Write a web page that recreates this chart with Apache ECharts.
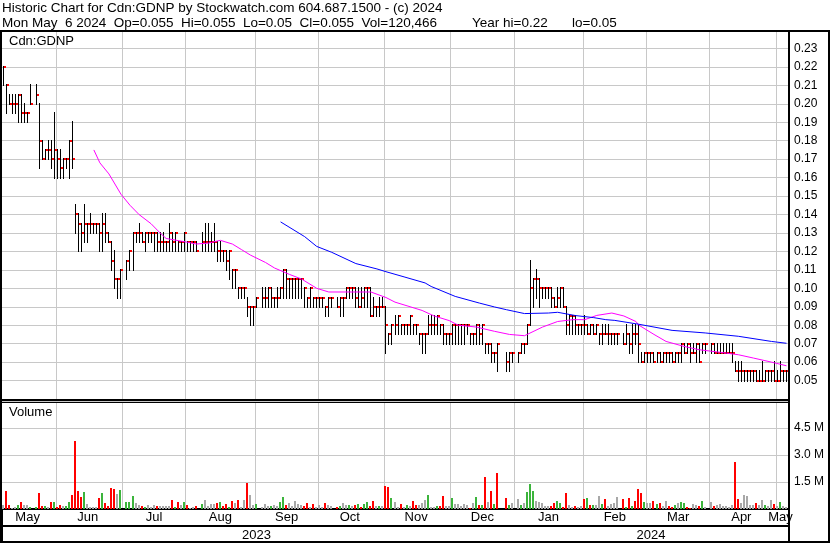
<!DOCTYPE html>
<html><head><meta charset="utf-8">
<script src="https://cdn.jsdelivr.net/npm/echarts@6/dist/echarts.min.js"></script>
<style>html,body{margin:0;padding:0;background:#fff}#c{width:830px;height:543px}</style>
</head><body><div id="c"></div>
<script>
// ---------- DATA ----------
const titleLine1 = 'Historic Chart for Cdn:GDNP by Stockwatch.com 604.687.1500 - (c) 2024';
const titleLine2 = 'Mon May  6 2024  Op=0.055  Hi=0.055  Lo=0.05  Cl=0.055  Vol=120,466';
const titleYearHi = 'Year hi=0.22';
const titleYearLo = 'lo=0.05';
const symbolName = 'Cdn:GDNP';
const firstDay = '2023-05-08', lastDay = '2024-05-06';
const monthNames = ['Jan','Feb','Mar','Apr','May','Jun','Jul','Aug','Sep','Oct','Nov','Dec'];
const priceTicks = [0.05,0.06,0.07,0.08,0.09,0.10,0.11,0.12,0.13,0.14,0.15,0.16,0.17,0.18,0.19,0.20,0.21,0.22,0.23];
const volumeTicks = [1500000, 3000000, 4500000];

// one entry per weekday (null = market holiday)
const hi = [
 .22,.21,.205,.205,.205,.205,.205,.20,.195,.21,null,.21,.20,.18,.175,.18,.18,.195,
 .175,.175,.17,.17,.18,.19,.145,.14,.135,.145,.135,.14,.135,.135,.135,.14,.14,.13,.125,.12,.105,.11,
 null,.115,.12,.13,.13,.135,.13,.13,.13,.13,.13,.13,.13,.13,.125,.135,.13,.13,.125,.125,.13,
 .125,.125,.125,.125,null,.13,.135,.135,.13,.135,.125,.125,.12,.12,.12,.11,.11,.10,.10,.10,.095,.09,.09,
 .095,null,.10,.10,.10,.10,.095,.10,.10,.11,.11,.105,.105,.105,.105,.105,.10,.095,.10,.095,.095,
 .095,.095,.09,.095,.095,null,.095,.095,.095,.10,.10,.10,.10,.10,.10,.10,.10,.10,.095,.09,.095,.095,
 .09,.075,.08,.085,.085,.08,.08,.08,.085,.08,.08,.075,.075,.075,.085,.085,.085,.085,.08,.08,.075,.075,
 .08,.08,.08,.08,.08,.08,.075,.075,.08,.08,.08,.07,.07,.07,.065,.07,null,null,.065,.065,.065,
 null,.065,.07,.07,.08,.115,.105,.11,.105,.10,.10,.10,.10,.095,.10,.10,.10,.09,.085,.085,.085,.08,.08,
 .085,.08,.08,.08,.08,.075,.08,.08,.08,.075,.075,.075,null,.075,.08,.075,.08,.08,.08,.065,.065,
 .065,.065,.065,.065,.065,.065,.065,.065,.065,.065,.065,.07,.07,.07,.07,.07,.07,.07,.07,.07,null,
 .07,.07,.07,.07,.07,.07,.07,.07,.06,.06,.06,.055,.055,.055,.055,.055,.055,.06,.055,.055,.055,.06,
 .055,.06,.055,.055
];
const lo = [
 .21,.195,.20,.195,.195,.19,.19,.19,.19,.20,null,.20,.165,.17,.17,.17,.165,.16,
 .16,.16,.16,.165,.16,.165,.13,.12,.12,.125,.125,.13,.13,.13,.12,.12,.125,.125,.11,.10,.095,.095,
 null,.105,.11,.11,.125,.125,.125,.12,.125,.125,.12,.12,.12,.12,.12,.12,.12,.12,.12,.12,.12,
 .12,.12,.12,.12,null,.12,.12,.12,.12,.12,.115,.115,.115,.11,.105,.10,.10,.095,.095,.095,.085,.08,.08,
 .09,null,.09,.09,.09,.09,.09,.09,.095,.095,.095,.095,.095,.095,.095,.095,.09,.09,.09,.09,.09,
 .09,.09,.085,.085,.09,null,.09,.085,.085,.095,.095,.095,.09,.09,.09,.09,.09,.085,.085,.085,.085,.09,
 .065,.07,.07,.075,.075,.075,.075,.075,.075,.075,.075,.07,.065,.065,.075,.075,.075,.075,.075,.07,.07,.07,
 .07,.07,.07,.07,.07,.075,.07,.07,.07,.07,.07,.065,.065,.06,.06,.055,null,null,.055,.055,.06,
 null,.06,.065,.065,.07,.08,.09,.095,.09,.095,.095,.095,.09,.09,.09,.09,.09,.075,.075,.075,.075,.075,.075,
 .075,.075,.075,.075,.075,.07,.07,.075,.07,.07,.07,.07,null,.07,.07,.065,.065,.07,.06,.06,.06,
 .06,.06,.06,.06,.06,.06,.06,.06,.06,.06,.06,.06,.065,.065,.06,.065,.06,.06,.065,.065,null,
 .065,.065,.065,.065,.065,.065,.065,.06,.055,.05,.05,.05,.05,.05,.05,.05,.05,.05,.05,.05,.05,.05,
 .05,.05,.05,.05
];
const cl = [
 .22,.21,.20,.20,.20,.205,.195,.195,.195,.20,null,.205,.18,.17,.175,.175,.17,.175,
 .17,.165,.17,.17,.18,.17,.14,.135,.13,.135,.135,.135,.135,.135,.13,.135,.13,.125,.115,.105,.105,.11,
 null,.115,.12,.13,.13,.13,.125,.13,.13,.13,.13,.125,.125,.125,.125,.13,.125,.13,.125,.125,.13,
 .125,.125,.125,.12,null,.125,.125,.125,.125,.125,.12,.12,.12,.115,.12,.11,.11,.10,.10,.10,.09,.09,.09,
 .095,null,.095,.095,.10,.095,.095,.095,.10,.11,.105,.105,.105,.105,.105,.105,.10,.095,.10,.095,.095,
 .095,.095,.09,.095,.095,null,.09,.095,.095,.10,.10,.10,.095,.09,.095,.10,.10,.085,.09,.09,.09,.09,
 .08,.075,.08,.08,.085,.08,.08,.08,.085,.08,.08,.075,.075,.075,.08,.08,.08,.085,.08,.075,.075,.075,
 .08,.08,.08,.08,.08,.08,.075,.075,.08,.075,.08,.07,.07,.065,.065,.07,null,null,.06,.065,.065,
 null,.065,.07,.07,.08,.10,.105,.105,.10,.10,.10,.10,.095,.09,.095,.10,.09,.08,.085,.085,.08,.08,.08,
 .08,.075,.08,.075,.08,.075,.075,.075,.075,.075,.075,.075,null,.07,.075,.07,.075,.075,.07,.06,.065,
 .065,.065,.06,.065,.06,.065,.065,.065,.06,.065,.065,.07,.065,.07,.065,.065,.07,.06,.07,.07,null,
 .07,.065,.065,.065,.065,.065,.065,.065,.055,.055,.055,.055,.055,.055,.055,.05,.05,.05,.055,.055,.055,.05,
 .05,.055,.055,.055
];
const volume = [
 220000,1020000,220000,70000,130000,220000,390000,220000,220000,110000,null,110000,910000,170000,170000,110000,390000,390000,
 110000,220000,170000,170000,390000,780000,3800000,1000000,690000,940000,280000,130000,130000,130000,610000,890000,330000,170000,1170000,1110000,830000,1060000,
 null,390000,390000,720000,330000,220000,170000,110000,220000,110000,220000,170000,170000,170000,170000,170000,500000,110000,390000,220000,390000,
 220000,60000,110000,170000,null,280000,500000,170000,300000,300000,330000,390000,170000,280000,110000,440000,330000,500000,110000,500000,1440000,780000,220000,
 280000,null,110000,280000,170000,170000,220000,170000,390000,670000,220000,330000,170000,440000,280000,220000,170000,330000,110000,280000,110000,
 220000,110000,330000,220000,170000,null,110000,170000,330000,220000,220000,170000,220000,280000,110000,280000,390000,170000,440000,170000,170000,170000,
 1280000,1220000,610000,390000,110000,280000,110000,220000,170000,440000,220000,220000,330000,500000,780000,110000,110000,170000,170000,720000,170000,170000,
 610000,280000,280000,170000,280000,220000,60000,330000,670000,220000,220000,1780000,390000,1000000,280000,2000000,null,null,610000,220000,330000,
 null,560000,220000,330000,940000,1390000,1000000,440000,390000,330000,170000,170000,170000,330000,440000,330000,110000,890000,220000,110000,170000,110000,170000,
 560000,610000,220000,220000,220000,720000,280000,560000,170000,280000,330000,670000,null,560000,110000,610000,170000,440000,1110000,890000,390000,
 330000,330000,440000,280000,330000,170000,440000,170000,110000,220000,330000,390000,330000,110000,60000,280000,220000,170000,440000,110000,null,
 390000,170000,220000,280000,170000,170000,110000,220000,2610000,560000,330000,780000,720000,220000,220000,330000,220000,500000,220000,170000,500000,280000,
 170000,390000,170000,120466
];
const volDir = [
 0,-1,-1,0,0,1,-1,0,0,1,null,1,-1,-1,1,0,-1,1,
 -1,-1,0,1,1,-1,-1,-1,-1,1,0,0,0,0,-1,1,-1,-1,-1,-1,0,1,
 null,1,1,1,0,0,-1,1,0,0,0,-1,0,0,0,0,-1,1,-1,0,1,
 -1,0,0,-1,null,1,0,0,0,0,-1,1,-1,-1,1,-1,0,-1,0,0,-1,0,0,
 1,null,0,0,0,1,0,0,1,1,-1,0,0,0,0,0,-1,-1,0,-1,0,
 0,0,-1,0,0,null,-1,1,0,0,1,0,-1,1,-1,1,1,-1,-1,0,1,0,
 -1,-1,1,0,0,-1,0,1,0,-1,-1,0,0,0,1,0,0,1,-1,-1,0,0,
 1,0,0,0,0,0,-1,0,1,-1,1,-1,0,-1,1,-1,null,null,-1,1,0,
 null,0,1,0,1,1,1,0,0,0,0,0,-1,-1,1,1,-1,-1,0,0,-1,0,0,
 -1,1,-1,1,0,0,1,-1,0,0,0,0,null,-1,1,-1,1,-1,-1,-1,1,
 0,0,-1,1,-1,0,0,-1,-1,1,0,1,1,-1,-1,0,0,-1,1,0,null,
 0,-1,0,0,0,0,0,0,-1,-1,0,0,0,0,0,-1,0,0,1,0,0,-1,
 0,1,0,0
];
// moving averages
const ma30Dates = ['2023-06-19','2023-06-21','2023-06-26','2023-06-30','2023-07-05','2023-07-10','2023-07-14','2023-07-19','2023-07-21','2023-08-01','2023-08-04','2023-08-10','2023-08-16','2023-08-22','2023-08-25','2023-08-30','2023-09-06','2023-09-11','2023-09-18','2023-09-22','2023-09-29','2023-10-05','2023-10-16','2023-10-25','2023-11-01','2023-11-06','2023-11-10','2023-11-17','2023-11-23','2023-11-30','2023-12-05','2023-12-13','2023-12-21','2023-12-28','2024-01-04','2024-01-12','2024-01-19','2024-01-26','2024-02-01','2024-02-07','2024-02-14','2024-02-20','2024-02-26','2024-02-27','2024-03-05','2024-03-11','2024-03-19','2024-03-26','2024-04-04','2024-04-12','2024-04-19','2024-04-29','2024-05-06'];
const ma30Vals  = [.175,.168,.162,.151,.145,.140,.135,.130,.127,.125,.124,.1245,.126,.124,.121,.118,.114,.111,.1075,.105,.100,.098,.098,.098,.095,.0925,.0905,.088,.085,.0825,.080,.079,.0767,.075,.0743,.079,.082,.083,.083,.0853,.0866,.085,.082,.080,.075,.0712,.0685,.0667,.0653,.064,.0622,.060,.058];
const ma90Dates = ['2023-09-13','2023-09-25','2023-09-29','2023-10-06','2023-10-18','2023-10-27','2023-11-01','2023-11-09','2023-11-20','2023-11-22','2023-12-04','2023-12-14','2023-12-21','2023-12-27','2024-01-04','2024-01-16','2024-01-19','2024-01-29','2024-02-06','2024-02-12','2024-02-15','2024-02-27','2024-03-13','2024-03-28','2024-04-12','2024-04-29','2024-05-06'];
const ma90Vals  = [.136,.128,.1227,.1195,.1134,.1105,.109,.1062,.1029,.101,.0956,.092,.0899,.0884,.0863,.0866,.087,.0852,.0841,.083,.0826,.0805,.0772,.0758,.074,.0712,.0702];

// ---------- BUILD ----------
const days = [];
(function(){
  let d = new Date(firstDay + 'T00:00:00Z'); const e = new Date(lastDay + 'T00:00:00Z');
  while (d <= e) { const w = d.getUTCDay(); if (w !== 0 && w !== 6) days.push(d.toISOString().slice(0,10)); d = new Date(d.getTime() + 86400000); }
})();
const monthStart = new Set(), monthLabel = new Set(), yearLabel = new Set();
let janIdx = -1;
(function(){
  const starts = [0];
  for (let i = 1; i < days.length; i++) if (days[i].slice(5,7) !== days[i-1].slice(5,7)) { starts.push(i); monthStart.add(i); if (days[i].slice(5,7) === '01') janIdx = i; }
  starts.push(days.length);
  for (let k = 0; k < starts.length - 1; k++) monthLabel.add(Math.floor((starts[k] + starts[k+1] - 1) / 2));
  yearLabel.add(Math.floor((0 + janIdx - 1) / 2));
  yearLabel.add(Math.floor((janIdx + days.length - 1) / 2));
})();
const ohlc = [], vols = [];
for (let i = 0; i < days.length; i++) {
  if (hi[i] != null) ohlc.push([i, hi[i], lo[i], cl[i]]);
  if (volume[i] != null) vols.push([i, volume[i], volDir[i]]);
}
const ma30 = ma30Dates.map((d, k) => [days.indexOf(d), ma30Vals[k]]);
const ma90 = ma90Dates.map((d, k) => [days.indexOf(d), ma90Vals[k]]);

const FONT = "'Liberation Sans', Arial, sans-serif";
const GRID_C = '#c8c8c8';
const pTicks = new Set(priceTicks.map(v => v.toFixed(2)));
const vTicks = new Set(volumeTicks);

function renderOHLC(params, api) {
  const i = api.value(0);
  const ph = api.coord([i, api.value(1)]), pl = api.coord([i, api.value(2)]), pc = api.coord([i, api.value(3)]);
  const x = Math.floor(ph[0]) + 0.5;
  const yc = Math.round(pc[1]);
  return { type: 'group', children: [
    { type: 'line', shape: { x1: x, y1: Math.round(ph[1]) - 1, x2: x, y2: Math.round(pl[1]) + 1 }, style: { stroke: '#000', lineWidth: 1 } },
    { type: 'rect', shape: { x: x + 0.5, y: yc - 1, width: 2, height: 2 }, style: { fill: '#ff0000' } }
  ]};
}
function renderVol(params, api) {
  const i = api.value(0);
  const top = api.coord([i, api.value(1)]), base = api.coord([i, 0]);
  const d = api.value(2);
  const x = Math.floor(top[0]) - 1;
  return { type: 'rect', shape: { x: x, y: Math.round(top[1]), width: 2, height: Math.round(base[1]) - Math.round(top[1]) },
    style: { fill: d > 0 ? '#3cb43c' : (d < 0 ? '#ff0000' : '#a8a8a8') } };
}

const chart = echarts.init(document.getElementById('c'), null, { renderer: 'canvas' });
const splitX = { show: true, interval: (i) => monthStart.has(i), lineStyle: { color: GRID_C, width: 1 } };
const TFONT = '13.5px ' + FONT;
chart.setOption({
  animation: false,
  backgroundColor: '#fff',
  grid: [
    { left: 2, top: 30, width: 786, height: 369 },
    { left: 2, top: 401, width: 786, height: 108 }
  ],
  xAxis: [
    { gridIndex: 0, type: 'category', data: days, axisLine: { show: false }, axisTick: { show: false }, axisLabel: { show: false }, splitLine: splitX },
    { gridIndex: 1, type: 'category', data: days, axisLine: { show: true, lineStyle: { color: '#000', width: 2 } },
      axisTick: { show: true, interval: (i) => i === janIdx, length: 32, lineStyle: { color: '#000', width: 1 } },
      axisLabel: { interval: (i) => monthLabel.has(i), formatter: (v) => monthNames[parseInt(v.slice(5,7), 10) - 1], color: '#000', fontSize: 13, fontFamily: FONT, margin: 2 },
      splitLine: splitX },
    { gridIndex: 1, type: 'category', data: days, position: 'bottom', offset: 17,
      axisLine: { show: true, lineStyle: { color: '#000', width: 2 } }, axisTick: { show: false },
      axisLabel: { interval: (i) => yearLabel.has(i), formatter: (v) => v.slice(0,4), color: '#000', fontSize: 13, fontFamily: FONT, margin: 3 },
      splitLine: { show: false } }
  ],
  yAxis: [
    { gridIndex: 0, type: 'value', position: 'right', min: 0.04, max: 0.24, interval: 0.01,
      axisLine: { show: false }, axisTick: { show: false },
      axisLabel: { formatter: (v) => pTicks.has(v.toFixed(2)) ? v.toFixed(2) : '', color: '#000', fontSize: 12, fontFamily: FONT, margin: 6 },
      splitLine: { lineStyle: { color: GRID_C, width: 1 } } },
    { gridIndex: 1, type: 'value', position: 'right', min: 0, max: 6000000, interval: 1500000,
      axisLine: { show: false }, axisTick: { show: false },
      axisLabel: { formatter: (v) => vTicks.has(v) ? (v / 1e6).toFixed(1) + ' M' : '', color: '#000', fontSize: 12, fontFamily: FONT, margin: 6 },
      splitLine: { lineStyle: { color: GRID_C, width: 1 } } }
  ],
  series: [
    { type: 'custom', name: 'Price', xAxisIndex: 0, yAxisIndex: 0, data: ohlc, renderItem: renderOHLC, encode: { x: 0, y: [1, 2, 3] }, z: 3 },
    { type: 'line', name: 'MA30', xAxisIndex: 0, yAxisIndex: 0, data: ma30, showSymbol: false, symbol: 'none', lineStyle: { color: '#ff00ff', width: 1 }, z: 4 },
    { type: 'line', name: 'MA90', xAxisIndex: 0, yAxisIndex: 0, data: ma90, showSymbol: false, symbol: 'none', lineStyle: { color: '#0000ff', width: 1 }, z: 4 },
    { type: 'custom', name: 'Volume', xAxisIndex: 1, yAxisIndex: 1, data: vols, renderItem: renderVol, encode: { x: 0, y: 1 }, z: 3 }
  ],
  graphic: [
    { type: 'text', left: 2, top: 1, style: { text: titleLine1, fill: '#000', font: TFONT } },
    { type: 'text', left: 2, top: 16, style: { text: titleLine2, fill: '#000', font: TFONT } },
    { type: 'text', left: 472, top: 16, style: { text: titleYearHi, fill: '#000', font: TFONT } },
    { type: 'text', left: 572, top: 16, style: { text: titleYearLo, fill: '#000', font: TFONT } },
    { type: 'text', left: 9, top: 35, style: { text: symbolName, fill: '#000', font: '13px ' + FONT }, z: 10 },
    { type: 'text', left: 9, top: 406, style: { text: 'Volume', fill: '#000', font: '13px ' + FONT }, z: 10 },
    { type: 'rect', shape: { x: 0, y: 30, width: 830, height: 2 }, style: { fill: '#000' }, z: 20 },
    { type: 'rect', shape: { x: 0, y: 30, width: 2, height: 513 }, style: { fill: '#000' }, z: 20 },
    { type: 'rect', shape: { x: 788, y: 30, width: 2, height: 513 }, style: { fill: '#000' }, z: 20 },
    { type: 'rect', shape: { x: 828, y: 30, width: 2, height: 513 }, style: { fill: '#000' }, z: 20 },
    { type: 'rect', shape: { x: 0, y: 541, width: 830, height: 2 }, style: { fill: '#000' }, z: 20 },
    { type: 'rect', shape: { x: 0, y: 399, width: 790, height: 2 }, style: { fill: '#000' }, z: 20 },
    { type: 'rect', shape: { x: 0, y: 402, width: 790, height: 1 }, style: { fill: '#000' }, z: 20 }
  ]
});
</script>
</body></html>
